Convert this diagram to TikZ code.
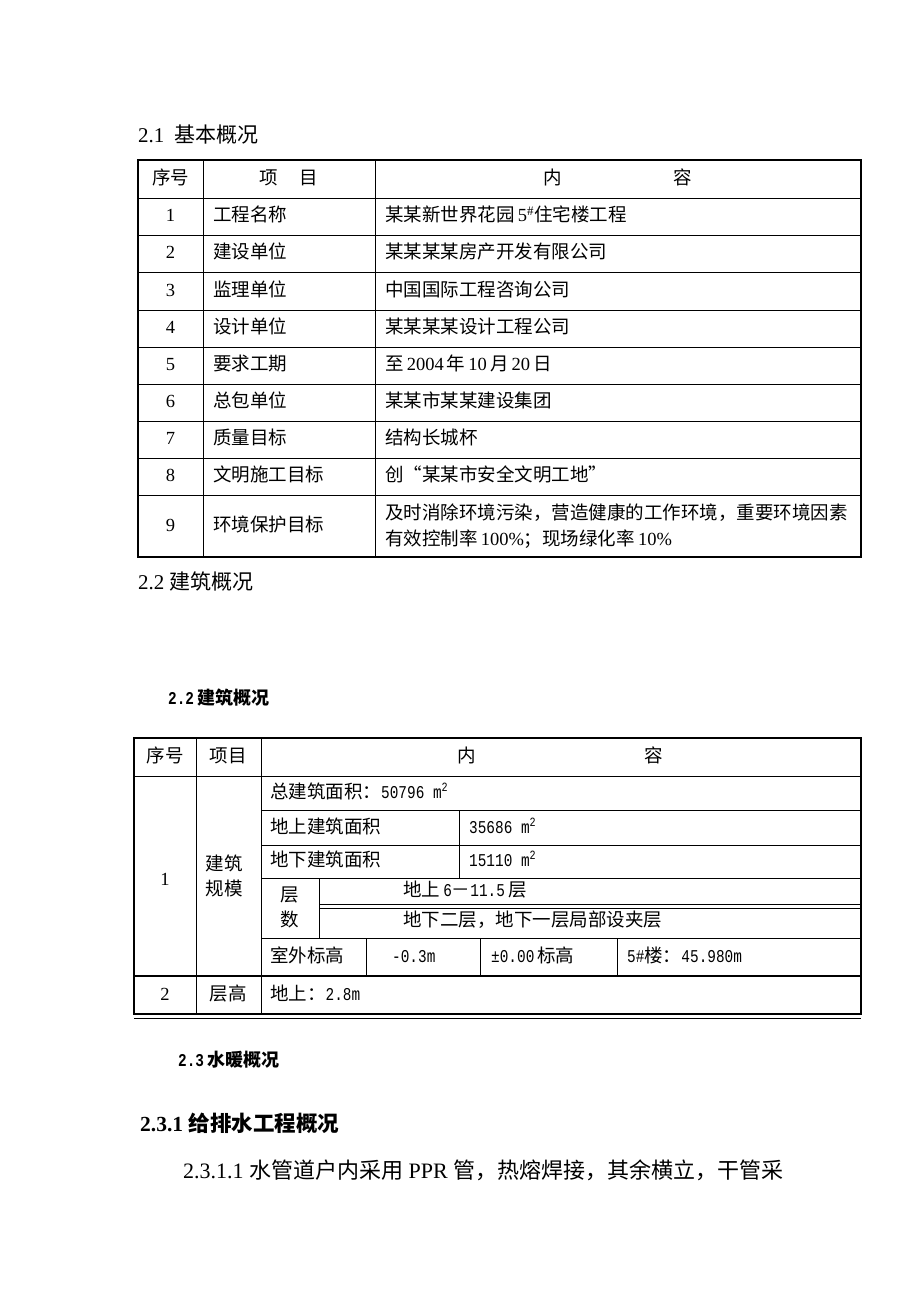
\documentclass[tikz,border=0pt]{standalone}
\usepackage{fontspec}
\setmainfont{Liberation Serif}
\newfontfamily\cjk{Noto Sans CJK SC}
\newfontfamily\mono[FakeStretch=0.8]{Liberation Mono}
\usetikzlibrary{positioning}
\newcommand{\zh}[1]{{\cjk #1}}
\newcommand{\dg}[1]{{\mono\fontsize{18}{20}\selectfont #1}}

\begin{document}
\begin{tikzpicture}[x=1pt,y=-1pt]
    \tikzstyle{txt}=[inner sep=0pt, text height=1.05em, text depth=0em, font=\fontsize{18.5}{22}\selectfont]
    \tikzstyle{left cell}=[txt, anchor=west]
    \tikzstyle{mid cell}=[txt, anchor=center]
    \tikzstyle{frame}=[line width=2pt]
    \tikzstyle{rule}=[line width=0.8pt]
    \tikzstyle{title}=[left cell, font=\fontsize{21}{25}\selectfont]
    \tikzstyle{bold title}=[left cell, font=\fontsize{21.5}{25}\selectfont\bfseries]
    \tikzstyle{small title}=[left cell, font=\fontsize{18}{20}\selectfont\bfseries]

    \useasboundingbox[fill=white] (0,0) rectangle (920,1302);

    % 2.1 first table
    \node[title] (t-basic) at (138,137) {2.1\hspace{0.5em}\zh{基本概况}};

    \draw[frame] (138,160) rectangle (861,557);
    \foreach \x in {203,375}
        \draw[rule] (\x,160) -- (\x,557);
    \foreach \y in {198,235,272,310,347,384,421,458,495}
        \draw[rule] (138,\y) -- (861,\y);

    \node[mid cell] (h-no) at (170.5,179) {\zh{序号}};
    \node[mid cell] (h-item) at (289,179) {\zh{项\hspace{1.15em}目}};
    \node[mid cell] (h-in) at (553,179) {\zh{内}};
    \node[mid cell] (h-rong) at (683,179) {\zh{容}};

    % rows 1 to 8
    \foreach \n/\y/\item/\content in {
        1/216.5/{工程名称}/{\zh{某某新世界花园}\,5\textsuperscript{\#}\zh{住宅楼工程}},
        2/253.5/{建设单位}/{\zh{某某某某房产开发有限公司}},
        3/291/{监理单位}/{\zh{中国国际工程咨询公司}},
        4/328.5/{设计单位}/{\zh{某某某某设计工程公司}},
        5/365.5/{要求工期}/{\zh{至}\,2004\,\zh{年}\,10\,\zh{月}\,20\,\zh{日}},
        6/402.5/{总包单位}/{\zh{某某市某某建设集团}},
        7/439.5/{质量目标}/{\zh{结构长城杯}},
        8/476.5/{文明施工目标}/{\zh{创“某某市安全文明工地”}}}
    {
        \node[mid cell] (no-\n) at (170.5,\y) {\n};
        \node[left cell] (item-\n) at (213,\y) {\zh{\item}};
        \node[left cell] (content-\n) at (385,\y) {\content};
    }

    \node[mid cell] (no-9) at (170.5,526) {9};
    \node[left cell] (item-9) at (213,526) {\zh{环境保护目标}};
    \node[left cell] (content-9a) at (385,514) {\zh{及时消除环境污染，营造健康的工作环境，重要环境因素}};
    \node[left cell] (content-9b) at (385,540) {\zh{有效控制率}\,100\%\zh{；现场绿化率}\,10\%};

    \node[title] (t-build) at (138,584) {2.2 \zh{建筑概况}};

    % 2.2 second table
    \node[small title] (t-build2) at (168,699) {{\mono 2.2}\,\zh{建筑概况}};

    \draw[frame] (134,738) rectangle (861,1014);
    \draw[line width=1pt] (134,1018) -- (861,1018);
    \foreach \x in {196,261}
        \draw[rule] (\x,738) -- (\x,1014);
    \draw[rule] (134,776) -- (861,776);
    \foreach \y in {810,845,878,938}
        \draw[rule] (261,\y) -- (861,\y);
    \draw[rule] (459,810) -- (459,878);
    \draw[rule] (319,878) -- (319,938);
    \draw[rule] (319,904) -- (861,904);
    \draw[rule] (319,908) -- (861,908);
    \foreach \x in {366,480,617}
        \draw[rule] (\x,938) -- (\x,976);
    \draw[frame] (134,976) -- (861,976);

    \node[mid cell] (g-no) at (165,757) {\zh{序号}};
    \node[mid cell] (g-item) at (228,757) {\zh{项目}};
    \node[mid cell] (g-in) at (467,757) {\zh{内}};
    \node[mid cell] (g-rong) at (654,757) {\zh{容}};

    \node[mid cell] (g-no-1) at (165,880) {1};
    \node[mid cell] (g-item-1a) at (224,865) {\zh{建筑}};
    \node[mid cell] (g-item-1b) at (224,890) {\zh{规模}};

    \node[left cell] (total) at (270,793) {\zh{总建筑面积：}\dg{50796 m\textsuperscript{2}}};
    \node[left cell] (above) at (270,828) {\zh{地上建筑面积}};
    \node[left cell] (above-v) at (469,828) {\dg{35686 m\textsuperscript{2}}};
    \node[left cell] (below) at (270,861) {\zh{地下建筑面积}};
    \node[left cell] (below-v) at (469,861) {\dg{15110 m\textsuperscript{2}}};
    \node[mid cell] (floors-a) at (290,896) {\zh{层}};
    \node[mid cell] (floors-b) at (290,921) {\zh{数}};
    \node[left cell] (floors-up) at (403,891) {\zh{地上}\,\dg{6}\zh{－}\dg{11.5}\,\zh{层}};
    \node[left cell] (floors-down) at (403,921) {\zh{地下二层，地下一层局部设夹层}};
    \node[left cell] (level) at (270,957) {\zh{室外标高}};
    \node[left cell] (level-v) at (392,957) {\dg{-0.3m}};
    \node[left cell] (zero) at (491,957) {\dg{±0.00}\,\zh{标高}};
    \node[left cell] (zero-v) at (627,957) {\dg{5\#}\zh{楼：}\dg{45.980m}};

    \node[mid cell] (g-no-2) at (165,995) {2};
    \node[mid cell] (g-item-2) at (228,995) {\zh{层高}};
    \node[left cell] (height) at (270,995) {\zh{地上：}\dg{2.8m}};

    % 2.3 headings and text
    \node[small title] (t-water) at (178,1061) {{\mono 2.3}\,\zh{水暖概况}};
    \node[bold title] (t-supply) at (140,1126) {2.3.1 \zh{给排水工程概况}};
    \node[left cell, font=\fontsize{22}{26}\selectfont] (para) at (183,1173)
        {2.3.1.1 \zh{水管道户内采用} PPR \zh{管，热熔焊接，其余横立，干管采}};
\end{tikzpicture}
\end{document}
